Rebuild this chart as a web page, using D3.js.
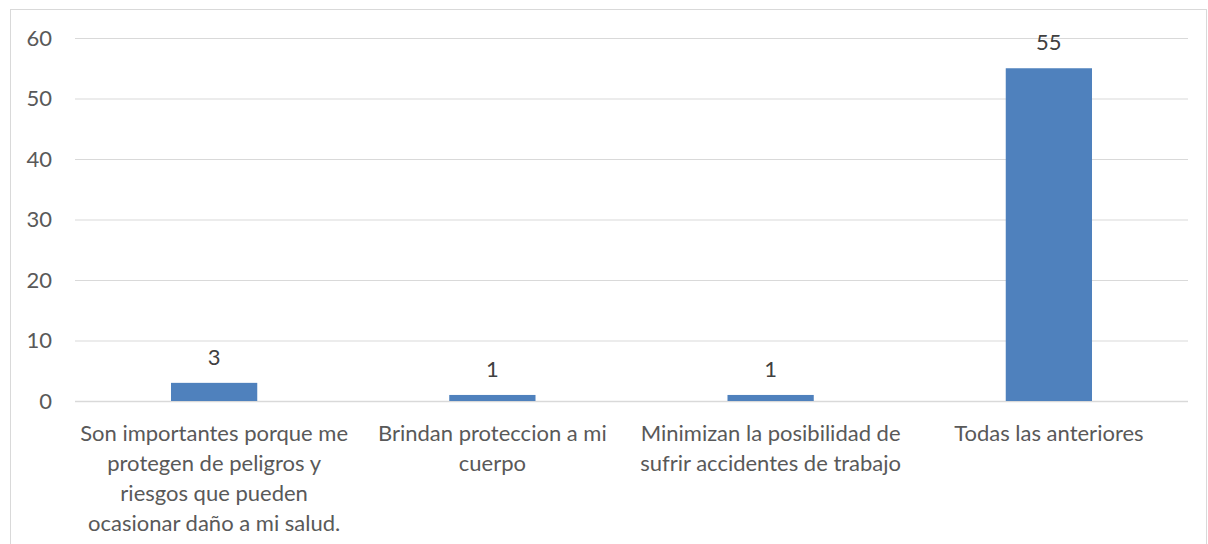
<!DOCTYPE html>
<html><head><meta charset="utf-8">
<script src="https://cdn.jsdelivr.net/npm/d3@7"></script>
<style>body{margin:0;background:#fff}svg{display:block}text{font-family:Lato,"Open Sans",sans-serif}</style>
</head><body>
<script>
const categories = [
  "Son importantes porque me protegen de peligros y riesgos que pueden ocasionar daño a mi salud.",
  "Brindan proteccion a mi cuerpo",
  "Minimizan la posibilidad de sufrir accidentes de trabajo",
  "Todas las anteriores"
];
const categoryLines = [
  ["Son importantes porque me","protegen de peligros y","riesgos que pueden","ocasionar daño a mi salud."],
  ["Brindan proteccion a mi","cuerpo"],
  ["Minimizan la posibilidad de","sufrir accidentes de trabajo"],
  ["Todas las anteriores"]
];
const values = [3, 1, 1, 55];
const yTicks = [0, 10, 20, 30, 40, 50, 60];

(function () {
const W = 1208, H = 544;
const svg = d3.select("body").append("svg").attr("width", W).attr("height", H);
svg.append("rect").attr("x", 10.5).attr("y", 9.5).attr("width", 1196).attr("height", 560)
  .attr("fill", "none").attr("stroke", "#d9d9d9");

const mLeft = 75, mRight = 1188, mTop = 38, mBottom = 401;
const x = d3.scaleBand().domain(categories).range([mLeft, mRight]).paddingInner(0.69).paddingOuter(0.345);
const y = d3.scaleLinear().domain([0, 60]).range([mBottom, mTop]);
const fs = 22;

const g = svg.append("g");
g.selectAll("line.grid").data(yTicks).enter().append("line")
  .attr("x1", mLeft).attr("x2", mRight)
  .attr("y1", d => y(d) + 0.5).attr("y2", d => y(d) + 0.5)
  .attr("stroke", "#d9d9d9").attr("stroke-width", d => d === 0 ? 1.5 : 1);

g.selectAll("text.ytick").data(yTicks).enter().append("text")
  .attr("x", 52).attr("y", d => y(d)).attr("dy", "0.35em")
  .attr("text-anchor", "end").attr("fill", "#595959").attr("font-size", fs)
  .text(d => d);

g.selectAll("rect.bar").data(values).enter().append("rect")
  .attr("x", (d, i) => x(categories[i])).attr("width", x.bandwidth())
  .attr("y", d => y(d)).attr("height", d => y(0) - y(d))
  .attr("fill", "#4f81bd");

g.selectAll("text.val").data(values).enter().append("text")
  .attr("x", (d, i) => x(categories[i]) + x.bandwidth() / 2)
  .attr("y", d => y(d) - 26).attr("dy", "0.35em")
  .attr("text-anchor", "middle").attr("fill", "#404040").attr("font-size", fs)
  .text(d => d);

categories.forEach((c, i) => {
  const cx = x(c) + x.bandwidth() / 2;
  const t = g.append("text").attr("text-anchor", "middle").attr("fill", "#595959").attr("font-size", fs);
  categoryLines[i].forEach((ln, j) => {
    t.append("tspan").attr("x", cx).attr("y", 433 + j * 30).attr("dy", "0.35em").text(ln);
  });
});
})();
</script>
</body></html>
